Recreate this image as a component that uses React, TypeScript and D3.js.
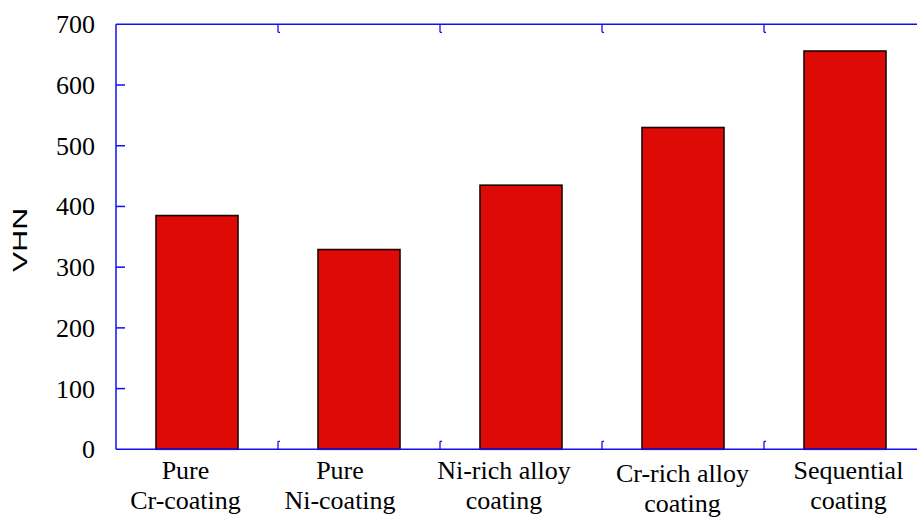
import React from "react";
import * as d3 from "d3";

const categories: string[][] = [
  ["Pure", "Cr-coating"],
  ["Pure", "Ni-coating"],
  ["Ni-rich alloy", "coating"],
  ["Cr-rich alloy", "coating"],
  ["Sequential", "coating"],
];
const values: number[] = [385, 329, 435, 530, 656];
const yTicks: number[] = [0, 100, 200, 300, 400, 500, 600, 700];
const yLabel = "VHN";

const W = 917;
const H = 519;
const left = 116;
const right = 926;
const top = 24.3;
const bottom = 449.3;
const axisColor = "#1010ee";
const serif = "Liberation Serif, Times New Roman, Times, Nimbus Roman, DejaVu Serif, serif";
// per-label placement nudges (layout)
const labelDx = [-11.5, -19, -17, -0.5, 3.5];
const labelDy = [0, 0, 0, 3, 0];

export default function App() {
  const ids = categories.map((_, i) => String(i));
  const x = d3.scaleBand<string>().domain(ids).range([left, right]).paddingInner(0).paddingOuter(0);
  const y = d3.scaleLinear().domain([0, 700]).range([bottom, top]);
  const bw = x.bandwidth();
  const barW = bw * 0.506;
  const boundaries = ids.slice(1).map((id) => x(id) as number);

  return (
    <svg
      width={W}
      height={H}
      style={{ position: "absolute", left: 0, top: 0, display: "block", background: "#fff" }}
    >
      {values.map((v, i) => {
        const cx = (x(ids[i]) as number) + bw / 2;
        return (
          <rect
            key={i}
            x={cx - barW / 2}
            y={y(v)}
            width={barW}
            height={y(0) - y(v)}
            fill="#dd0a06"
            stroke="#1a0000"
            strokeWidth={1.6}
          />
        );
      })}
      <line x1={left} x2={right} y1={top} y2={top} stroke={axisColor} strokeWidth={1.5} />
      <line x1={left} x2={right} y1={bottom} y2={bottom} stroke={axisColor} strokeWidth={1.5} />
      <line x1={left} x2={left} y1={top} y2={bottom} stroke={axisColor} strokeWidth={1.5} />
      <line x1={right} x2={right} y1={top} y2={bottom} stroke={axisColor} strokeWidth={1.5} />
      {yTicks.map((t) => {
        const yy = y(t);
        const inner = t === 0 || t === 700;
        return (
          <g key={t}>
            {!inner && (
              <line x1={left} x2={left + 9} y1={yy} y2={yy} stroke={axisColor} strokeWidth={1.5} />
            )}
            <text x={95} y={yy + 9} textAnchor="end" fontFamily={serif} fontSize={26} fill="#000">
              {t}
            </text>
          </g>
        );
      })}
      {boundaries.map((bx, i) => (
        <g key={i}>
          <line x1={bx} x2={bx} y1={top} y2={top + 8} stroke={axisColor} strokeWidth={1.3} />
          <line x1={bx} x2={bx + 2} y1={top + 8} y2={top + 8} stroke={axisColor} strokeWidth={1.3} />
          <line x1={bx} x2={bx} y1={bottom} y2={bottom - 8} stroke={axisColor} strokeWidth={1.3} />
          <line x1={bx} x2={bx + 2} y1={bottom - 8} y2={bottom - 8} stroke={axisColor} strokeWidth={1.3} />
        </g>
      ))}
      {categories.map((lines, i) => {
        const cx = (x(ids[i]) as number) + bw / 2 + labelDx[i];
        return (
          <text key={i} textAnchor="middle" fontFamily={serif} fontSize={26} fill="#000">
            {lines.map((ln, j) => (
              <tspan key={j} x={cx} y={479 + labelDy[i] + j * 30}>
                {ln}
              </tspan>
            ))}
          </text>
        );
      })}
      <text
        transform={`translate(27, ${240}) rotate(-90)`}
        textAnchor="middle"
        fontFamily="Liberation Sans, Arial, sans-serif"
        fontSize={21}
        textLength={64}
        lengthAdjust="spacingAndGlyphs"
        fill="#000"
      >
        {yLabel}
      </text>
    </svg>
  );
}
